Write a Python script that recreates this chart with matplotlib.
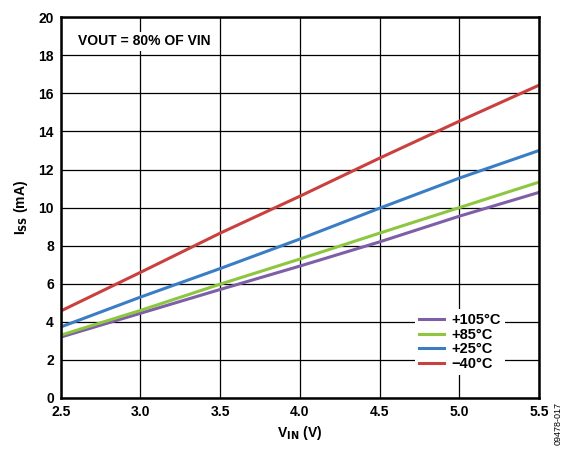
import numpy as np
import matplotlib
matplotlib.use('Agg')
import matplotlib.pyplot as plt
import matplotlib.ticker as mticker

plt.rcParams['font.family'] = ['Liberation Sans', 'DejaVu Sans']
plt.rcParams['font.weight'] = 'bold'

vin = [2.5, 3.0, 3.5, 4.0, 4.5, 5.0, 5.5]
iss_105 = [3.2, 4.45, 5.7, 6.93, 8.2, 9.55, 10.8]
iss_85 = [3.3, 4.6, 5.98, 7.3, 8.66, 10.0, 11.34]
iss_25 = [3.73, 5.3, 6.8, 8.35, 9.97, 11.55, 13.0]
iss_m40 = [4.57, 6.6, 8.66, 10.6, 12.6, 14.54, 16.43]

labels = ['+105°C', '+85°C', '+25°C', '\u221240°C']
colors = ['#7f5ea8', '#8dc63f', '#3b7dc4', '#c9403f']

fig = plt.figure(figsize=[5.68, 4.49], dpi=100)
ax = fig.add_axes([0.107, 0.1136, 0.842, 0.848])

for ys, lab, col in zip([iss_105, iss_85, iss_25, iss_m40], labels, colors):
    ax.plot(vin, ys, color=col, linewidth=2.2, label=lab)

ax.set_xlim(2.5, 5.5)
ax.set_ylim(0, 20)
ax.xaxis.set_major_locator(mticker.MultipleLocator(0.5))
ax.xaxis.set_major_formatter(mticker.FormatStrFormatter('%.1f'))
ax.yaxis.set_major_locator(mticker.MultipleLocator(2))
ax.grid(which='major', color='black', linewidth=0.9)
ax.set_axisbelow(True)
for s in ax.spines.values():
    s.set_linewidth(1.8)
ax.tick_params(length=0, labelsize=10, pad=5)

ax.set_xlabel(r'V$_{\mathbf{IN}}$ (V)', fontsize=10, fontweight='bold', labelpad=4)
ax.set_ylabel(r'I$_{\mathbf{SS}}$ (mA)', fontsize=10, fontweight='bold', labelpad=6)

ax.text(0.035, 0.955, 'VOUT = 80% OF VIN', transform=ax.transAxes,
        fontsize=10, fontweight='bold', va='top', ha='left',
        bbox=dict(facecolor='white', edgecolor='none', pad=2))

leg = ax.legend(loc='lower right', bbox_to_anchor=(0.945, 0.04), frameon=True,
                fancybox=False, edgecolor='none', framealpha=1,
                fontsize=10.5, handlelength=1.7, handletextpad=0.5,
                labelspacing=0.05, borderpad=0.3)
for t in leg.get_texts():
    t.set_fontweight('bold')

fig.text(0.99, 0.01, '09478-017', rotation=90, fontsize=6.5,
         fontweight='normal', ha='right', va='bottom')

fig.savefig('out.png', dpi=100)
